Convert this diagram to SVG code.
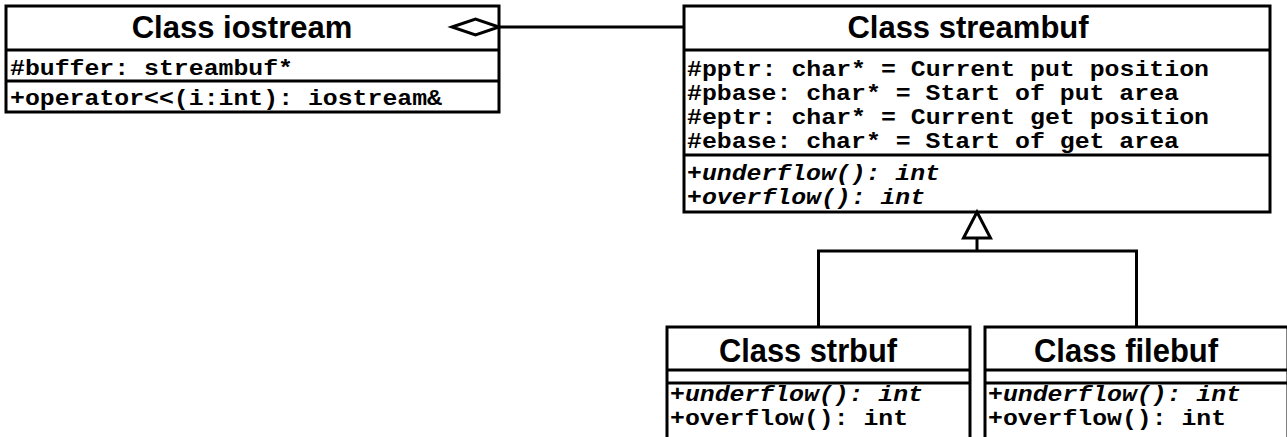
<svg xmlns="http://www.w3.org/2000/svg" width="1287" height="437" viewBox="0 0 1287 437">
  <style>
    .box { fill: #fff; stroke: #000; stroke-width: 3; }
    .div { stroke: #000; stroke-width: 3; }
    .edge { fill: none; stroke: #000; stroke-width: 3; }
    .head { font-family: "Liberation Sans", Arial, sans-serif; font-weight: bold; font-size: 31px; fill: #000; text-anchor: middle; }
    .sub { font-family: "Liberation Sans", Arial, sans-serif; font-weight: bold; font-size: 34px; fill: #000; text-anchor: middle; }
    .mem { font-family: "Liberation Mono", "Courier New", monospace; font-weight: bold; font-size: 22px; fill: #000; }
    .abs { font-style: italic; }
  </style>

  <!-- class iostream -->
  <g id="iostream">
    <rect class="box" x="6" y="6" width="493" height="106"/>
    <line class="div" x1="6" y1="50" x2="499" y2="50"/>
    <line class="div" x1="6" y1="81" x2="499" y2="81"/>
    <text class="head" x="242" y="38">Class iostream</text>
    <text class="mem" x="10" y="75" textLength="283" lengthAdjust="spacingAndGlyphs">#buffer: streambuf*</text>
    <text class="mem" x="10" y="105" textLength="432" lengthAdjust="spacingAndGlyphs">+operator&lt;&lt;(i:int): iostream&amp;</text>
  </g>

  <!-- class streambuf -->
  <g id="streambuf">
    <rect class="box" x="684" y="6" width="586" height="206"/>
    <line class="div" x1="684" y1="50" x2="1270" y2="50"/>
    <line class="div" x1="684" y1="155" x2="1270" y2="155"/>
    <text class="head" x="968" y="38">Class streambuf</text>
    <text class="mem" x="687" y="76" textLength="522" lengthAdjust="spacingAndGlyphs">#pptr: char* = Current put position</text>
    <text class="mem" x="687" y="100" textLength="492" lengthAdjust="spacingAndGlyphs">#pbase: char* = Start of put area</text>
    <text class="mem" x="687" y="124" textLength="522" lengthAdjust="spacingAndGlyphs">#eptr: char* = Current get position</text>
    <text class="mem" x="687" y="148" textLength="492" lengthAdjust="spacingAndGlyphs">#ebase: char* = Start of get area</text>
    <text class="mem abs" x="687" y="180" textLength="253" lengthAdjust="spacingAndGlyphs">+underflow(): int</text>
    <text class="mem abs" x="687" y="204" textLength="238" lengthAdjust="spacingAndGlyphs">+overflow(): int</text>
  </g>

  <!-- class strbuf -->
  <g id="strbuf">
    <rect class="box" x="667" y="327" width="303" height="130"/>
    <line class="div" x1="667" y1="370" x2="970" y2="370"/>
    <line class="div" x1="667" y1="383" x2="970" y2="383"/>
    <text class="sub" x="808" y="362" textLength="178" lengthAdjust="spacingAndGlyphs">Class strbuf</text>
    <text class="mem abs" x="670" y="401" textLength="253" lengthAdjust="spacingAndGlyphs">+underflow(): int</text>
    <text class="mem" x="670" y="425" textLength="238" lengthAdjust="spacingAndGlyphs">+overflow(): int</text>
  </g>

  <!-- class filebuf -->
  <g id="filebuf">
    <rect class="box" x="985" y="327" width="303" height="130"/>
    <line class="div" x1="985" y1="370" x2="1288" y2="370"/>
    <line class="div" x1="985" y1="383" x2="1288" y2="383"/>
    <text class="sub" x="1126" y="362" textLength="184" lengthAdjust="spacingAndGlyphs">Class filebuf</text>
    <text class="mem abs" x="988" y="401" textLength="253" lengthAdjust="spacingAndGlyphs">+underflow(): int</text>
    <text class="mem" x="988" y="425" textLength="238" lengthAdjust="spacingAndGlyphs">+overflow(): int</text>
  </g>

  <!-- connectors, drawn over the boxes so the end symbols stay visible -->
  <g id="connectors">
    <!-- aggregation: iostream holds a streambuf -->
    <line class="edge" x1="499" y1="27" x2="684" y2="27"/>
    <polygon class="box" points="452,27 475.5,19 499,27 475.5,35"/>
    <!-- generalization: strbuf / filebuf derive from streambuf -->
    <polyline class="edge" points="818.5,327 818.5,251 1136.5,251 1136.5,327"/>
    <line class="edge" x1="977" y1="238" x2="977" y2="251"/>
    <polygon class="box" points="977,212 963.5,238 990.5,238"/>
  </g>
</svg>
